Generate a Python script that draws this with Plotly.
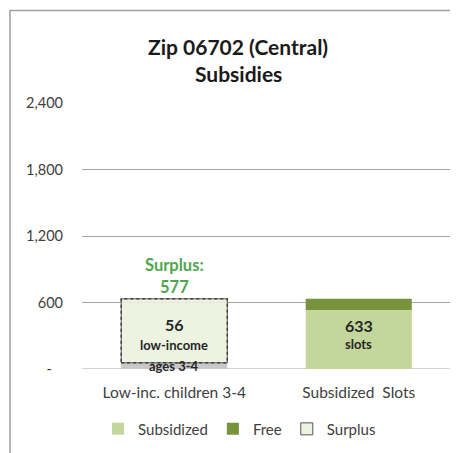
import plotly.graph_objects as go

categories = ["Low-inc. children 3-4", "Subsidized  Slots"]
low_income = [56, 0]
surplus = [577, 0]
subsidized = [0, 533]
free = [0, 100]
slots_total = 633
tick_vals = [0, 600, 1200, 1800, 2400]
tick_text = ["-\u00a0\u00a0\u00a0", "600", "1,200", "1,800", "2,400"]

FONT = "Lato"
x_pos = [0, 1]
bar_w = 0.575

fig = go.Figure()

fig.add_trace(go.Bar(x=[x_pos[0]], y=[low_income[0]], width=bar_w,
                     marker=dict(color="#C8C8C8", line=dict(width=0)),
                     showlegend=False, hoverinfo="skip"))
fig.add_trace(go.Bar(x=[x_pos[1]], y=[subsidized[1]], width=bar_w, name="Subsidized",
                     marker=dict(color="#C3D69B", line=dict(width=0))))
fig.add_trace(go.Bar(x=[x_pos[1]], y=[free[1]], base=[subsidized[1]], width=bar_w, name="Free",
                     marker=dict(color="#77933C", line=dict(width=0))))
fig.add_trace(go.Bar(x=[x_pos[0]], y=[surplus[0]], base=[low_income[0]], width=bar_w, name="Surplus",
                     marker=dict(color="rgba(235,241,222,0.9)", line=dict(color="#555555", width=1))))

x0 = x_pos[0] - bar_w / 2
x1 = x_pos[0] + bar_w / 2
y0 = low_income[0]
y1 = low_income[0] + surplus[0]
fig.add_trace(go.Scatter(x=[x0, x1, x1, x0, x0], y=[y0, y0, y1, y1, y0], mode="lines",
                         line=dict(color="#404040", width=1.5, dash="dot"),
                         showlegend=False, hoverinfo="skip"))

fig.update_layout(barmode="overlay")

tot0 = low_income[0] + surplus[0]
ann = []
ann.append(dict(x=x_pos[0], y=tot0, text="<b>Surplus:</b>", showarrow=False,
                yanchor="middle", yshift=34, font=dict(family=FONT, size=16.5, color="#4EA64E")))
ann.append(dict(x=x_pos[0], y=tot0, text="<b>%d</b>" % surplus[0], showarrow=False,
                yanchor="middle", yshift=12, font=dict(family=FONT, size=16.5, color="#4EA64E")))
mid0 = tot0 / 2
ann.append(dict(x=x_pos[0], y=mid0, text="<b>%d</b>" % low_income[0], showarrow=False,
                yshift=9, font=dict(family=FONT, size=16, color="#262626")))
ann.append(dict(x=x_pos[0], y=mid0, text="<b>low-income</b>", showarrow=False,
                yshift=-11, font=dict(family=FONT, size=13, color="#262626")))
ann.append(dict(x=x_pos[0], y=mid0, text="<b>ages 3-4</b>", showarrow=False,
                yshift=-32, font=dict(family=FONT, size=13, color="#262626")))
mid1 = slots_total / 2
ann.append(dict(x=x_pos[1], y=mid1, text="<b>%d</b>" % slots_total, showarrow=False,
                yshift=8, font=dict(family=FONT, size=16, color="#262626")))
ann.append(dict(x=x_pos[1], y=mid1, text="<b>slots</b>", showarrow=False,
                yshift=-10, font=dict(family=FONT, size=13, color="#262626")))
# title lines
ann.append(dict(xref="paper", yref="paper", x=(230 - 74) / 369, y=327 / 270, xanchor="center",
                yanchor="middle", showarrow=False, text="<b>Zip 06702 (Central)</b>",
                font=dict(family=FONT, size=21, color="#1a1a1a")))
ann.append(dict(xref="paper", yref="paper", x=(230 - 74) / 369, y=300 / 270, xanchor="center",
                yanchor="middle", showarrow=False, text="<b>Subsidies</b>",
                font=dict(family=FONT, size=21, color="#1a1a1a")))

fig.update_layout(
    width=450, height=445,
    margin=dict(l=74, r=7, t=95, b=80),
    paper_bgcolor="white", plot_bgcolor="white",
    font=dict(family=FONT, size=14, color="#404040"),
    xaxis=dict(range=[-0.5, 1.5], tickvals=x_pos, ticktext=categories, showgrid=False,
               zeroline=False, showline=False, ticks="", ticklabelstandoff=12,
               tickfont=dict(size=15.5, color="#404040")),
    yaxis=dict(range=[0, 2400], tickvals=tick_vals, ticktext=tick_text, showgrid=True,
               gridcolor="#A6A6A6", gridwidth=1, zeroline=False, showline=False, ticks="",
               ticklabelstandoff=18, tickfont=dict(size=14.5, color="#404040")),
    legend=dict(orientation="h", x=0.427, xanchor="center", y=-0.226, yanchor="middle",
                font=dict(size=15, color="#404040"), itemwidth=30, traceorder="normal"),
    annotations=ann,
    shapes=[dict(type="rect", xref="paper", yref="paper",
                 x0=(2 - 74) / 369, x1=1.1, y0=-0.5, y1=364 / 270,
                 line=dict(color="#A0A0A0", width=1.5), layer="below")],
    showlegend=True,
)
fig.add_shape(type="line", xref="paper", yref="y", x0=0, x1=1, y0=0, y1=0,
              line=dict(color="#A6A6A6", width=1), layer="below")

fig.write_html("out.html")
